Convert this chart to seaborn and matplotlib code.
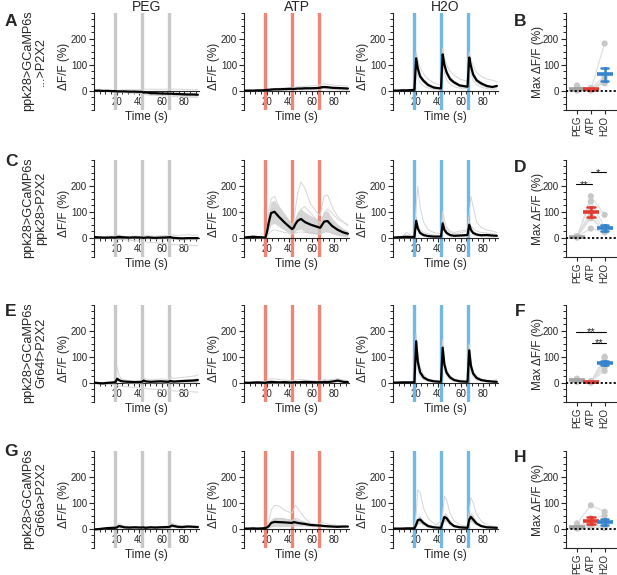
import matplotlib
matplotlib.use("Agg")
import matplotlib.pyplot as plt
from matplotlib.ticker import MultipleLocator
import numpy as np
import pandas as pd
import seaborn as sns

sns.set_style("ticks")
plt.rcParams["font.family"] = ["Liberation Sans", "DejaVu Sans"]
plt.rcParams["axes.linewidth"] = 0.8

W, H = 617, 575

# ---------------------------------------------------------------- data
time_s = [0, 4, 8, 12, 16, 19, 20.5, 22, 24, 27, 31, 36, 42.5, 44, 45.5, 47.5,
          50.5, 54, 59, 66, 67.5, 69, 71, 74, 78, 83, 88, 92]
stim_s = [19, 42.5, 66]

stimuli = ["PEG", "ATP", "H2O"]
row_labels = ["ppk28>GCaMP6s\n...>P2X2", "ppk28>GCaMP6s\nppk28>P2X2",
              "ppk28>GCaMP6s\nGr64f>P2X2", "ppk28>GCaMP6s\nGr66a>P2X2"]

# row A
a_peg_mean = [0, 0, -1, -1, -2, -2, -3, -3, -3, -3, -4, -4, -5, -8, -6, -8, -10, -10, -11, -12, -12, -12, -13, -13, -14, -15, -15, -16]
a_peg_sem = [1, 2, 2, 2, 3, 3, 3, 3, 3, 4, 4, 4, 4, 5, 5, 5, 5, 5, 5, 5, 5, 5, 6, 6, 6, 6, 6, 6]
a_peg_cells = [[0, 1, 0, 1, 2, 1, 0, 1, 2, 3, 4, 3, 4, 5, 6, 5, 6, 5, 5, 6, 4, 5, 6, 5, 5, 4, 3, 4],
               [0, -1, -2, -3, -4, -3, -5, -6, -6, -8, -9, -11, -12, -14, -15, -17, -18, -18, -20, -21, -22, -22, -23, -24, -24, -25, -26, -27]]
a_atp_mean = [0, 0, 0, 1, 1, 2, 3, 3, 4, 5, 5, 6, 7, 6, 7, 8, 8, 9, 9, 10, 11, 13, 14, 13, 11, 10, 9, 8]
a_atp_sem = [1, 1, 1, 2, 2, 2, 3, 3, 3, 3, 3, 4, 4, 4, 4, 4, 5, 5, 5, 5, 5, 6, 6, 6, 5, 5, 5, 5]
a_atp_cells = [[0, 1, 0, 1, 2, 3, 5, 6, 7, 8, 9, 10, 12, 12, 14, 15, 16, 16, 18, 20, 22, 25, 26, 24, 22, 20, 19, 17],
               [0, 0, -1, 0, 0, 1, 1, 2, 1, 2, 3, 2, 3, 4, 3, 4, 5, 4, 5, 5, 6, 7, 8, 6, 5, 4, 3, 3]]
a_h2o_mean = [0, 0, 1, 1, 2, 3, 125, 85, 55, 38, 22, 12, 8, 140, 100, 70, 45, 32, 20, 15, 128, 95, 62, 40, 28, 18, 14, 18]
a_h2o_sem = [1, 1, 1, 1, 1, 2, 22, 18, 14, 10, 7, 5, 4, 24, 18, 14, 10, 8, 6, 5, 22, 18, 14, 10, 8, 6, 5, 5]
a_h2o_cells = [[0, 1, 2, 2, 3, 5, 150, 120, 90, 65, 45, 30, 20, 165, 130, 100, 75, 60, 45, 35, 150, 120, 95, 70, 55, 45, 40, 35],
               [0, -1, 0, 0, 1, 1, 95, 55, 30, 18, 10, 5, 3, 110, 70, 40, 25, 15, 10, 8, 105, 70, 40, 22, 14, 8, 5, 6]]

# row C
c_peg_mean = [2, 1, 0, 0, 1, 0, 2, 3, 2, 1, 0, 1, 0, -1, 0, 1, 0, -1, 0, 1, 2, 0, -1, -2, -3, -2, -2, -2]
c_peg_sem = [3, 3, 3, 3, 3, 3, 4, 4, 4, 4, 4, 4, 4, 5, 5, 5, 5, 5, 5, 5, 5, 5, 6, 6, 6, 6, 6, 6]
c_peg_cells = [[0, -2, -3, -2, -4, -5, -6, -7, -8, -9, -10, -12, -14, -15, -16, -18, -19, -20, -22, -24, -25, -26, -27, -28, -29, -30, -30, -31],
               [3, 4, 2, 5, 6, 4, 8, 10, 7, 5, 4, 6, 5, 7, 9, 8, 6, 5, 7, 8, 10, 12, 9, 8, 10, 11, 9, 10]]
c_atp_mean = [0, 2, 3, 2, 1, 0, 25, 60, 95, 100, 80, 58, 33, 38, 52, 65, 72, 60, 50, 40, 38, 48, 62, 64, 45, 30, 20, 15]
c_atp_sem = [2, 2, 3, 3, 3, 3, 15, 30, 45, 45, 38, 30, 20, 22, 28, 35, 40, 38, 35, 28, 26, 30, 38, 40, 30, 22, 15, 12]
c_atp_cells = [[0, 2, 5, 3, 2, 0, 40, 100, 150, 160, 120, 90, 50, 60, 110, 170, 215, 190, 130, 90, 85, 120, 160, 165, 120, 80, 60, 50],
               [0, 3, 8, 5, 3, 2, 35, 75, 110, 95, 70, 80, 40, 38, 60, 85, 110, 120, 95, 60, 55, 70, 95, 110, 95, 70, 60, 45],
               [0, 1, 0, 1, 0, 0, 8, 15, 25, 30, 25, 20, 15, 14, 18, 20, 22, 20, 18, 15, 15, 18, 20, 22, 18, 14, 10, 8]]
c_h2o_mean = [0, 1, 2, 3, 2, 3, 65, 35, 18, 10, 6, 4, 4, 55, 30, 18, 10, 7, 8, 10, 50, 30, 18, 12, 9, 10, 8, 7]
c_h2o_sem = [2, 2, 3, 4, 3, 3, 20, 12, 8, 6, 5, 4, 4, 18, 12, 8, 6, 5, 6, 6, 20, 12, 8, 6, 5, 6, 5, 4]
c_h2o_cells = [[0, 2, 5, 10, 5, 5, 120, 200, 120, 60, 30, 20, 15, 100, 70, 40, 25, 20, 25, 30, 90, 160, 120, 60, 40, 30, 25, 20],
               [0, 1, 3, 20, 8, 5, 80, 50, 30, 20, 15, 10, 8, 75, 45, 30, 20, 15, 18, 25, 60, 45, 35, 25, 20, 18, 15, 12]]

# row E
e_peg_mean = [0, -2, -3, -1, 0, 2, 15, 10, 6, 4, 3, 2, 3, 8, 5, 4, 3, 4, 5, 3, 6, 5, 4, 5, 6, 7, 8, 10]
e_peg_sem = [2, 3, 3, 3, 3, 3, 8, 6, 5, 5, 5, 5, 5, 6, 5, 5, 5, 5, 6, 6, 6, 6, 6, 6, 7, 7, 8, 8]
e_peg_cells = [[0, -1, 0, 2, 3, 5, 60, 30, 15, 10, 8, 6, 5, 20, 15, 12, 10, 12, 14, 12, 20, 18, 16, 18, 20, 22, 25, 30],
               [0, -2, -4, -6, -8, -10, -10, -12, -14, -15, -17, -19, -21, -22, -23, -24, -25, -26, -28, -29, -30, -31, -32, -33, -34, -35, -36, -37]]
e_atp_mean = [0, -1, 0, 1, 0, -1, 1, 2, 3, 2, 1, 2, 0, 1, 2, 1, 2, 3, 2, 1, 2, 1, 3, 2, 4, 8, 3, 2]
e_atp_sem = [1, 2, 2, 2, 2, 2, 3, 3, 4, 4, 4, 3, 3, 3, 3, 3, 3, 3, 3, 3, 3, 3, 3, 3, 3, 4, 3, 3]
e_atp_cells = [[0, 2, 3, 2, 4, 3, 8, 12, 15, 14, 12, 10, 8, 9, 10, 11, 12, 10, 8, 6, 8, 10, 12, 10, 12, 15, 10, 8],
               [0, -2, -3, -1, -2, -4, -3, -2, -1, -3, -2, -4, -5, -3, -2, -4, -3, -2, -4, -3, -2, -4, -3, -2, -3, -2, -4, -3]]
e_h2o_mean = [0, 0, 1, 1, 1, 2, 160, 80, 40, 20, 10, 5, 3, 135, 70, 38, 20, 10, 5, 3, 125, 65, 35, 18, 10, 6, 4, 3]
e_h2o_sem = [1, 1, 1, 1, 1, 1, 28, 15, 8, 5, 3, 2, 2, 22, 12, 7, 5, 3, 2, 2, 20, 12, 7, 4, 3, 2, 2, 2]
e_h2o_cells = [[0, 1, 0, 2, 1, 2, 190, 110, 60, 30, 15, 10, 6, 165, 90, 50, 28, 15, 10, 6, 150, 85, 45, 25, 15, 10, 8, 12],
               [0, -1, 0, -1, 0, 1, 120, 55, 25, 12, 6, 3, 2, 100, 50, 25, 12, 6, 3, 2, 95, 45, 22, 10, 6, 3, 2, 1]]

# row G
g_peg_mean = [-3, -2, 0, 2, 3, 3, 5, 10, 8, 5, 4, 5, 4, 5, 3, 4, 5, 4, 5, 6, 8, 12, 10, 7, 6, 8, 7, 6]
g_peg_sem = [2, 2, 2, 2, 2, 2, 3, 5, 4, 3, 3, 3, 3, 3, 3, 3, 3, 3, 3, 3, 4, 5, 4, 3, 3, 3, 3, 3]
g_peg_cells = [[-2, 0, 2, 3, 4, 5, 8, 20, 15, 10, 8, 7, 6, 8, 6, 7, 8, 7, 8, 10, 15, 22, 18, 12, 10, 12, 10, 9],
               [-5, -4, -2, 0, 1, 0, 2, 4, 3, 2, 1, 2, 1, 2, 0, 1, 2, 1, 2, 3, 4, 6, 5, 3, 2, 4, 3, 2]]
g_atp_mean = [0, 0, 1, 0, 1, 2, 5, 10, 22, 26, 25, 24, 22, 25, 24, 22, 20, 18, 14, 12, 12, 11, 10, 9, 8, 7, 8, 8]
g_atp_sem = [1, 1, 1, 1, 1, 1, 4, 8, 15, 18, 18, 16, 14, 15, 14, 12, 10, 8, 6, 5, 5, 5, 4, 4, 3, 3, 3, 3]
g_atp_cells = [[0, 1, 0, 1, 0, 1, 10, 30, 70, 90, 88, 70, 60, 75, 90, 80, 60, 40, 20, 15, 12, 10, 10, 8, 8, 6, 6, 7],
               [0, 0, 0, -1, 0, 0, 3, 8, 20, 35, 40, 38, 30, 35, 40, 38, 30, 25, 18, 15, 20, 25, 22, 18, 15, 12, 10, 10]]
g_h2o_mean = [0, 0, 0, 1, 1, 1, 15, 33, 35, 22, 10, 5, 3, 25, 45, 40, 22, 10, 5, 3, 35, 45, 35, 20, 10, 5, 4, 3]
g_h2o_sem = [1, 1, 1, 1, 1, 1, 8, 15, 15, 10, 6, 4, 3, 10, 18, 15, 10, 6, 4, 3, 12, 18, 15, 8, 5, 3, 3, 2]
g_h2o_cells = [[0, 0, 1, 0, 1, 2, 60, 150, 140, 80, 40, 20, 10, 60, 125, 110, 60, 30, 15, 8, 70, 120, 100, 55, 30, 15, 10, 8],
               [0, 1, 0, 0, 1, 0, 10, 25, 30, 20, 12, 8, 30, 20, 40, 35, 20, 12, 8, 6, 25, 40, 35, 22, 12, 8, 6, 5]]

# max dF/F per fly (summary panels)
b_peg = [2, 5, 20, 0, 8, 3]
b_atp = [3, 8, 0, 10, 5, 6]
b_h2o = [182, 55, 45, 35, 30, 28]
d_peg = [0, 2, 5, 3, 4, 6]
d_atp = [160, 140, 100, 75, 35, 85]
d_h2o = [88, 40, 31, 25, 20, 22]
f_peg = [8, 12, 5, 3, 10, 15]
f_atp = [2, 0, 4, 3, 1, 5]
f_h2o = [100, 95, 80, 70, 60, 45]
h_peg = [20, 3, 5, 2, 4, 0]
h_atp = [90, 40, 25, 15, 10, 5]
h_h2o = [65, 50, 20, 8, 2, 5]

# significance brackets: (x from, x to, y, label)
d_sig = [(-0.05, 1.1, 206, "**"), (1.0, 2.1, 253, "*")]
f_sig = [(-0.05, 2.1, 197, "**"), (1.1, 2.1, 154, "**")]

stim_colors = {"PEG": "#c8c8c8", "ATP": "#f08576", "H2O": "#72b8e4"}
mean_colors = {"PEG": "#a3a3a3", "ATP": "#e23b30", "H2O": "#3584cc"}

# ---------------------------------------------------------------- layout
col_left = [94, 244, 393]
trace_w = 105
sum_left, sum_w = 566, 51
row_top = [13, 160, 305, 451]
ax_h = 97


def px_axes(fig, left, top, width, height):
    return fig.add_axes([left / W, 1 - (top + height) / H, width / W, height / H])


def style_y(ax):
    ax.set_ylim(-75, 300)
    ax.set_yticks([0, 100, 200])
    ax.yaxis.set_minor_locator(MultipleLocator(25))
    ax.tick_params(axis="y", which="major", length=3.5, width=0.8, labelsize=7, pad=1.5)
    ax.tick_params(axis="y", which="minor", length=2, width=0.7)
    sns.despine(ax=ax)


def trace_panel(ax, mean, sem, cells, stim):
    for t in stim_s:
        ax.axvline(t, color=stim_colors[stim], lw=2.4, zorder=1)
    for cell in cells:
        sns.lineplot(x=time_s, y=cell, ax=ax, color="#d6d6d6", lw=0.7, zorder=2)
    m = np.array(mean, dtype=float)
    s = np.array(sem, dtype=float)
    ax.fill_between(time_s, m - s, m + s, color="#c9c9c9", alpha=0.75, lw=0, zorder=3)
    sns.lineplot(x=time_s, y=mean, ax=ax, color="black", lw=1.6, zorder=4)

    style_y(ax)
    ax.set_xlim(0, 93)
    ax.set_xticks([20, 40, 60, 80])
    ax.xaxis.set_minor_locator(MultipleLocator(5))
    ax.spines["bottom"].set_position(("data", 0))
    ax.tick_params(axis="x", which="major", length=3, width=0.8, labelsize=7, pad=1.5)
    ax.tick_params(axis="x", which="minor", length=1.8, width=0.7)
    ax.set_xlabel("Time (s)", fontsize=8.5, labelpad=3)
    ax.set_ylabel("ΔF/F (%)", fontsize=8.5)
    ax.yaxis.set_label_coords(-0.225, 0.45)


def summary_panel(ax, peg, atp, h2o, sig):
    rows = []
    for pos, (cond, vals) in enumerate(zip(stimuli, [peg, atp, h2o])):
        for fly, v in enumerate(vals):
            rows.append({"fly": fly, "cond": cond, "pos": pos, "value": v})
    df = pd.DataFrame(rows)

    sns.lineplot(data=df, x="pos", y="value", units="fly", estimator=None,
                 color="#dddddd", lw=0.8, ax=ax, zorder=1)
    sns.scatterplot(data=df, x="pos", y="value", color="#c8c8c8", s=20,
                    edgecolor="none", ax=ax, zorder=2, legend=False)
    ax.axhline(0, color="black", ls=(0, (1.2, 1.2)), lw=1.3, zorder=3)
    sns.pointplot(data=df, x="pos", y="value", hue="cond", palette=mean_colors,
                  native_scale=True, errorbar="se", capsize=0.55, markers="_",
                  markersize=11, markeredgewidth=2.6, linestyle="none",
                  err_kws={"linewidth": 1.8}, legend=False, ax=ax)
    for x0, x1, y, lab in sig:
        ax.plot([x0, x1], [y, y], color="black", lw=0.8)
        ax.text((x0 + x1) / 2, y - 14, lab, ha="center", va="baseline", fontsize=8)

    style_y(ax)
    ax.set_xlim(-0.8, 2.9)
    ax.set_xticks([0, 1, 2])
    ax.set_xticklabels(stimuli, rotation=90, fontsize=7)
    ax.tick_params(axis="x", length=3, width=0.8, pad=1.2)
    ax.set_xlabel("")
    ax.set_ylabel("Max ΔF/F (%)", fontsize=8.5)
    ax.yaxis.set_label_coords(-0.44, 0.5)


# ---------------------------------------------------------------- figure
fig = plt.figure(figsize=(W / 100, H / 100), dpi=100)

traces = [
    [(a_peg_mean, a_peg_sem, a_peg_cells), (a_atp_mean, a_atp_sem, a_atp_cells), (a_h2o_mean, a_h2o_sem, a_h2o_cells)],
    [(c_peg_mean, c_peg_sem, c_peg_cells), (c_atp_mean, c_atp_sem, c_atp_cells), (c_h2o_mean, c_h2o_sem, c_h2o_cells)],
    [(e_peg_mean, e_peg_sem, e_peg_cells), (e_atp_mean, e_atp_sem, e_atp_cells), (e_h2o_mean, e_h2o_sem, e_h2o_cells)],
    [(g_peg_mean, g_peg_sem, g_peg_cells), (g_atp_mean, g_atp_sem, g_atp_cells), (g_h2o_mean, g_h2o_sem, g_h2o_cells)],
]
summaries = [(b_peg, b_atp, b_h2o, []), (d_peg, d_atp, d_h2o, d_sig),
             (f_peg, f_atp, f_h2o, f_sig), (h_peg, h_atp, h_h2o, [])]

left_letters = ["A", "C", "E", "G"]
right_letters = ["B", "D", "F", "H"]
left_letter_y = [21, 162, 311, 451]
right_letter_y = [21, 168, 311, 457]

for r in range(4):
    for c in range(3):
        ax = px_axes(fig, col_left[c], row_top[r], trace_w, ax_h)
        mean, sem, cells = traces[r][c]
        trace_panel(ax, mean, sem, cells, stimuli[c])
    ax = px_axes(fig, sum_left, row_top[r], sum_w, ax_h)
    summary_panel(ax, *summaries[r])

    fig.text(34.5 / W, 1 - (row_top[r] + 48) / H, row_labels[r], rotation=90,
             ha="center", va="center", fontsize=9.2, linespacing=1.1, multialignment="center")
    fig.text(11 / W, 1 - left_letter_y[r] / H, left_letters[r], ha="center", va="center",
             fontsize=12.5, fontweight="bold")
    fig.text(520 / W, 1 - right_letter_y[r] / H, right_letters[r], ha="center", va="center",
             fontsize=12.5, fontweight="bold")

for c in range(3):
    fig.text((col_left[c] + trace_w / 2) / W, 1 - 7 / H, stimuli[c], ha="center",
             va="center", fontsize=10)

fig.savefig("out.png", dpi=100, facecolor="white")
